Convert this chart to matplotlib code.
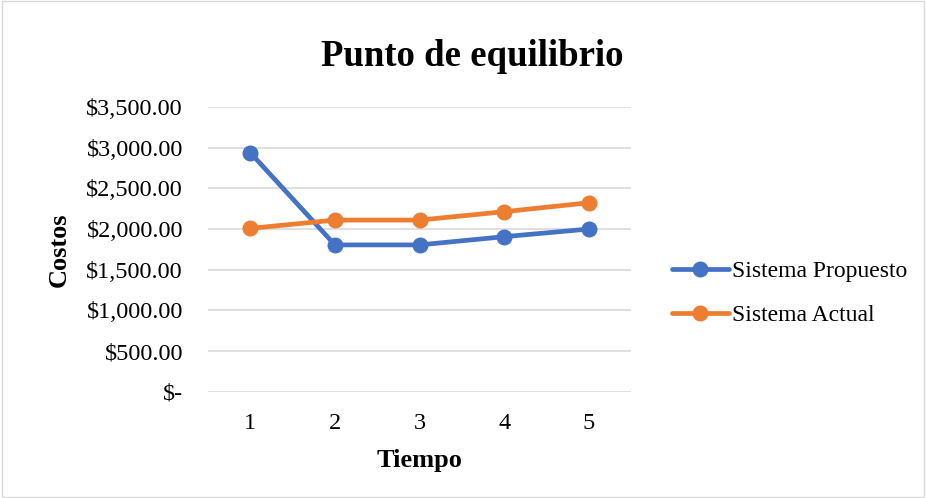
import matplotlib.pyplot as plt
from matplotlib.ticker import FuncFormatter

plt.rcParams['font.family'] = ['Liberation Serif', 'DejaVu Serif']

tiempo = [1, 2, 3, 4, 5]
propuesto = [2939, 1805, 1805, 1906, 2000]
actual = [2008, 2110, 2110, 2213, 2323]
series_names = ['Sistema Propuesto', 'Sistema Actual']
blue = '#4472C4'
orange = '#ED7D31'


def money(v, pos):
    if v == 0:
        return '$-'
    return '${:,.2f}'.format(v)


fig = plt.figure(figsize=(9.26, 4.98), dpi=100)
ax = fig.add_axes([208 / 926, 1 - 392 / 498, 423 / 926, 285 / 498])

ax.plot(tiempo, propuesto, color=blue, lw=3.4, marker='o', ms=10.5, label=series_names[0],
        solid_capstyle='round')
ax.plot(tiempo, actual, color=orange, lw=3.4, marker='o', ms=10.5, label=series_names[1],
        solid_capstyle='round')

ax.set_xlim(0.5, 5.5)
ax.set_ylim(-3, 3500)
ax.set_yticks(range(0, 3501, 500))
ax.set_xticks(tiempo)
ax.yaxis.set_major_formatter(FuncFormatter(money))
ax.grid(axis='y', color='#D9D9D9', lw=1.2)
ax.set_axisbelow(True)
for s in ax.spines.values():
    s.set_visible(False)
ax.tick_params(length=0, labelsize=17.5, colors='black')
ax.tick_params(axis='y', pad=18)
ax.tick_params(axis='x', pad=15)

# title centred on the whole chart area, like Excel does
fig.text(472 / 926, 1 - 56 / 498, 'Punto de equilibrio', fontsize=26.5, fontweight='bold',
         ha='center', va='center')
ax.set_xlabel('Tiempo', fontsize=19, fontweight='bold', labelpad=11)
ax.set_ylabel('Costos', fontsize=19, fontweight='bold', labelpad=11)

ax.legend(loc='center left', bbox_to_anchor=(1.047, 0.345), frameon=False, fontsize=17,
          handlelength=2.4, labelspacing=0.95, handletextpad=0.15)

fig.patches.append(plt.Rectangle((0.002, 0.002), 0.996, 0.996, transform=fig.transFigure,
                                 fill=False, edgecolor='#D9D9D9', lw=1))

fig.savefig('out.png', dpi=100)
